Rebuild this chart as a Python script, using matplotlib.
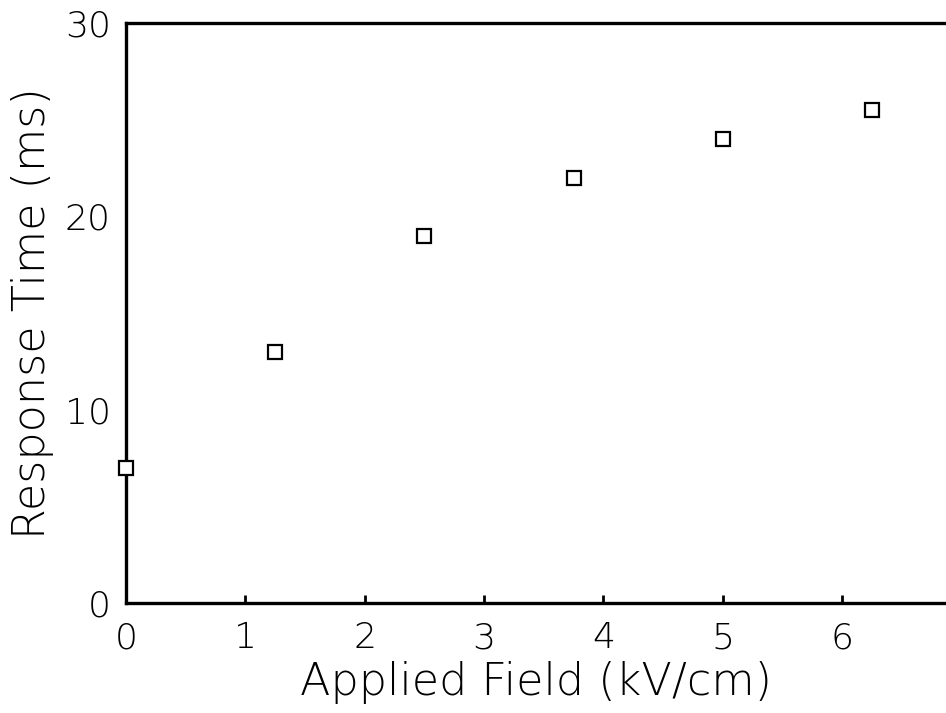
import matplotlib.pyplot as plt

# Data
field = [0.0, 1.25, 2.5, 3.75, 5.0, 6.25]
response = [7.0, 13.0, 19.0, 22.0, 24.0, 25.5]
xticks = [0, 1, 2, 3, 4, 5, 6]
yticks = [0, 10, 20, 30]

plt.rcParams['font.family'] = ['DejaVu Sans']

fig = plt.figure(figsize=(9.46, 7.13), dpi=100)
ax = fig.add_axes([0.1332, 0.1543, 0.8668, 0.8134])

ax.plot(field, response, linestyle='none', marker='s', markersize=9.5,
        markerfacecolor='white', markeredgecolor='black', markeredgewidth=1.6,
        clip_on=False, zorder=3)

ax.set_xlim(0, 6.87)
ax.set_ylim(0, 30)
ax.set_xticks(xticks)
ax.set_yticks(yticks)

for side in ['left', 'bottom', 'top']:
    ax.spines[side].set_linewidth(2.4)
ax.spines['right'].set_visible(False)

ax.tick_params(axis='x', direction='in', length=6, width=2, pad=13,
               labelsize=26)
ax.tick_params(axis='y', direction='in', length=0, pad=11, labelsize=26)
for lab in ax.get_xticklabels() + ax.get_yticklabels():
    lab.set_fontweight('light')

ax.set_xlabel('Applied Field (kV/cm)', fontsize=32, labelpad=4,
              fontweight='light')
ax.set_ylabel('Response Time (ms)', fontsize=32, labelpad=8,
              fontweight='light')

fig.savefig('out.png', dpi=100)
